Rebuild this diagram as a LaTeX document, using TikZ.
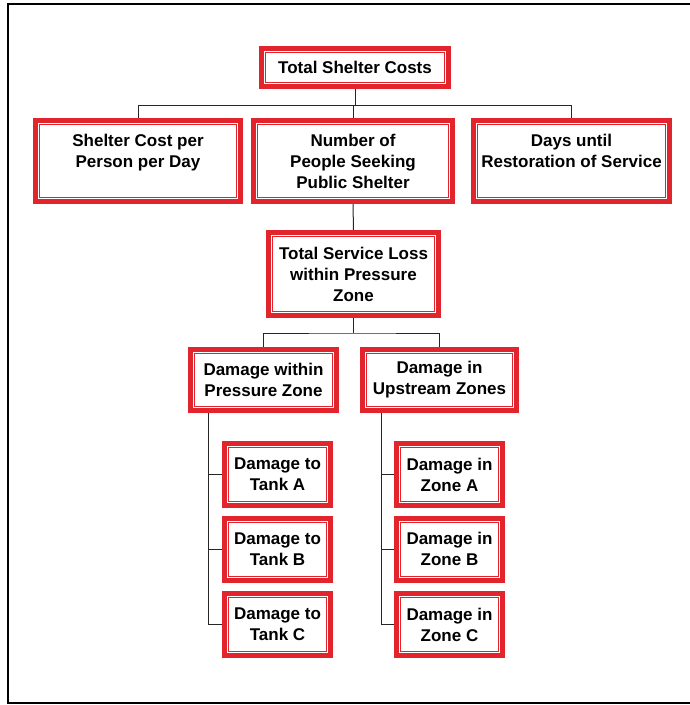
\documentclass[tikz,border=0pt]{standalone}
\usepackage{fontspec}
\setmainfont{Liberation Sans}
\usetikzlibrary{backgrounds}
\definecolor{boxred}{RGB}{226,36,44}
\tikzset{
  costbox/.style={draw=boxred, line width=5pt, fill=white, align=center,
    inner sep=0pt, font=\bfseries\fontsize{17}{21}\selectfont,
    path picture={\draw[boxred, line width=1pt]
      ([shift={(4pt,-4pt)}]path picture bounding box.north west) rectangle
      ([shift={(-4pt,4pt)}]path picture bounding box.south east);}},
  link/.style={line width=1pt, black!85}
}
\begin{document}
\begin{tikzpicture}[x=1pt, y=-1pt]
        \useasboundingbox (0,0) rectangle (689,705);
        \draw[line width=2pt] (7.5,3.5) rectangle (692,702.5);
        % top level
        \node[costbox, minimum width=187pt, minimum height=38pt] (total) at (355,67.5) {Total Shelter Costs};
        \node[costbox, minimum width=205pt, minimum height=81pt] (cost) at (138,161) {Shelter Cost per\\Person per Day\\\mbox{}};
        \node[costbox, minimum width=199pt, minimum height=81pt] (people) at (353,161) {Number of\\People Seeking\\Public Shelter};
        \node[costbox, minimum width=196pt, minimum height=81pt] (days) at (571.5,161) {Days until\\Restoration of Service\\\mbox{}};
        \node[costbox, minimum width=170pt, minimum height=83pt] (loss) at (353.5,274) {Total Service Loss\\within Pressure\\Zone};
        % damage
        \node[costbox, minimum width=146pt, minimum height=61pt] (within) at (263.5,380) {Damage within\\Pressure Zone};
        \node[costbox, minimum width=154pt, minimum height=61pt] (upstream) at (439.5,380) {Damage in\\Upstream Zones};
        \node[costbox, minimum width=106pt, minimum height=62pt] (tanka) at (277.5,474.5) {Damage to\\Tank A};
        \node[costbox, minimum width=106pt, minimum height=62pt] (tankb) at (277.5,549) {Damage to\\Tank B};
        \node[costbox, minimum width=106pt, minimum height=62pt] (tankc) at (277.5,624.5) {Damage to\\Tank C};
        \node[costbox, minimum width=106pt, minimum height=62pt] (zonea) at (449.5,474.5) {Damage in\\Zone A};
        \node[costbox, minimum width=106pt, minimum height=62pt] (zoneb) at (449.5,549) {Damage in\\Zone B};
        \node[costbox, minimum width=106pt, minimum height=62pt] (zonec) at (449.5,624.5) {Damage in\\Zone C};
        \begin{scope}[on background layer]
        \draw[link] (total.south) -- ++(0,16.5) coordinate (topbus);
        \draw[link] (cost.north) |- (topbus) -| (days.north);
        \draw[link] (people.north) -- (people.north |- topbus);
        \draw[link] (people.south) -- (loss.north);
        \draw[link] (loss.south) -- ++(0,15) coordinate (lossbus);
        \draw[link] (within.north) |- (lossbus) -| (upstream.north);
        \coordinate (lspine) at ([xshift=-55.5pt]within.south);
        \coordinate (rspine) at ([xshift=-58.5pt]upstream.south);
        \draw[link] (lspine) |- (tankc.west);
        \draw[link] (tanka.west) -- (tanka.west -| lspine);
        \draw[link] (tankb.west) -- (tankb.west -| lspine);
        \draw[link] (rspine) |- (zonec.west);
        \draw[link] (zonea.west) -- (zonea.west -| rspine);
        \draw[link] (zoneb.west) -- (zoneb.west -| rspine);
        \end{scope}
\end{tikzpicture}
\end{document}
